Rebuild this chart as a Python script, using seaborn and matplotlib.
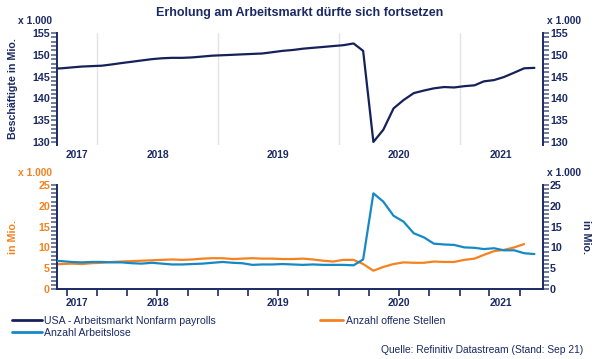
import numpy as np
import pandas as pd
import matplotlib
matplotlib.use("Agg")
import matplotlib.pyplot as plt
import matplotlib.dates as mdates
from matplotlib.ticker import MultipleLocator
from matplotlib.lines import Line2D
import seaborn as sns

# ---------------- data (monthly, mid-month) ----------------
payroll_months = pd.date_range("2017-08-01", "2021-08-01", freq="MS") + pd.Timedelta(days=14)
payrolls = [146.8, 146.9, 147.1, 147.3, 147.4,
            147.5, 147.8, 148.1, 148.4, 148.7, 149.0, 149.2, 149.3, 149.3, 149.4, 149.6, 149.8,
            149.9, 150.0, 150.1, 150.2, 150.3, 150.6, 150.9, 151.1, 151.4, 151.6, 151.8, 152.0,
            152.2, 152.6, 150.9, 130.0, 132.8, 137.7, 139.6, 141.2, 141.8, 142.3, 142.6, 142.5,
            142.8, 143.0, 143.9, 144.2, 144.9, 145.9, 146.9, 147.0]

openings_months = pd.date_range("2017-08-01", "2021-07-01", freq="MS") + pd.Timedelta(days=14)
openings = [5.9, 6.0, 6.1, 6.0, 6.2,
            6.3, 6.5, 6.6, 6.7, 6.8, 6.9, 7.0, 7.1, 7.0, 7.1, 7.3, 7.4,
            7.4, 7.2, 7.3, 7.4, 7.3, 7.3, 7.2, 7.2, 7.3, 7.1, 6.8, 6.6,
            7.0, 7.0, 6.0, 4.4, 5.3, 6.0, 6.4, 6.3, 6.3, 6.6, 6.5, 6.5,
            7.0, 7.3, 8.2, 9.1, 9.4, 10.0, 10.8]

unemployed_months = payroll_months
unemployed = [6.8, 6.7, 6.5, 6.4, 6.5,
              6.5, 6.4, 6.4, 6.2, 6.1, 6.3, 6.1, 5.9, 5.9, 6.0, 6.1, 6.3,
              6.5, 6.3, 6.2, 5.8, 5.9, 5.9, 6.0, 5.9, 5.8, 5.9, 5.8, 5.8,
              5.8, 5.7, 7.1, 23.0, 21.0, 17.6, 16.2, 13.4, 12.4, 10.9, 10.7, 10.6,
              10.0, 9.9, 9.6, 9.8, 9.3, 9.3, 8.6, 8.4]

years = [2017, 2018, 2019, 2020, 2021]
title = "Erholung am Arbeitsmarkt dürfte sich fortsetzen"
lbl_payrolls = "USA - Arbeitsmarkt Nonfarm payrolls"
lbl_openings = "Anzahl offene Stellen"
lbl_unemp = "Anzahl Arbeitslose"
source = "Quelle: Refinitiv Datastream (Stand: Sep 21)"

df_pay = pd.DataFrame({"date": payroll_months, "value": payrolls})
df_open = pd.DataFrame({"date": openings_months, "value": openings})
df_unemp = pd.DataFrame({"date": unemployed_months, "value": unemployed})

# ---------------- style ----------------
sns.set_style("white")
plt.rcParams["font.family"] = ["Liberation Sans", "DejaVu Sans"]

NAVY = "#1b2a63"
NAVY_LINE = "#16215a"
BLUE = "#1589c6"
ORANGE = "#f5821f"
GRID = "#e4e4e4"
TICK = "#5a6690"

W, H = 600, 359
fig = plt.figure(figsize=(6.0, 3.59), dpi=100)

def frac_box(x0, y0, x1, y1):
    return [x0 / W, 1 - y1 / H, (x1 - x0) / W, (y1 - y0) / H]

xmin = pd.Timestamp("2017-09-01")
xmax = pd.Timestamp("2021-09-10")

ax1 = fig.add_axes(frac_box(57, 33, 543, 145))
ax2 = fig.add_axes(frac_box(57, 185, 543, 289))

# ---------------- top panel ----------------
sns.lineplot(data=df_pay, x="date", y="value", ax=ax1, color=NAVY_LINE, lw=1.6, label=None)
ax1.set_xlim(xmin, xmax)
ax1.set_ylim(129.3, 155)
for y in years[1:]:
    ax1.axvline(pd.Timestamp(f"{y}-01-01"), color=GRID, lw=1.0, zorder=0)
ax1.set_xticks([])
ax1.set_xlabel("")
for s in ["top", "bottom"]:
    ax1.spines[s].set_visible(False)
for s in ["left", "right"]:
    ax1.spines[s].set_visible(True)
    ax1.spines[s].set_color(NAVY)
    ax1.spines[s].set_linewidth(1.4)
ax1.yaxis.set_major_locator(MultipleLocator(5))
ax1.yaxis.set_minor_locator(MultipleLocator(1))
ax1.tick_params(axis="y", which="both", left=True, right=True, labelleft=True, labelright=True,
                direction="out", color=TICK, width=1.2, length=4, labelcolor=NAVY,
                labelsize=7.7, pad=1)
for t in ax1.get_yticklabels():
    t.set_fontweight("bold")
ax1.set_ylabel("Beschäftigte in Mio.", color=NAVY, fontsize=7.7, fontweight="bold")
ax1.yaxis.set_label_coords((18 - 57) / 486, 0.5)

# ---------------- bottom panel ----------------
sns.lineplot(data=df_open, x="date", y="value", ax=ax2, color=ORANGE, lw=1.6, label=None)
ax2r = ax2.twinx()
sns.lineplot(data=df_unemp, x="date", y="value", ax=ax2r, color=BLUE, lw=1.6, label=None)
ax2.set_xlim(xmin, xmax)
for a in (ax2, ax2r):
    a.set_ylim(0, 25)
    a.yaxis.set_major_locator(MultipleLocator(5))
    a.yaxis.set_minor_locator(MultipleLocator(1))
    a.set_xlabel("")
    for s in a.spines.values():
        s.set_visible(False)
ax2.spines["left"].set_visible(True)
ax2.spines["bottom"].set_visible(True)
ax2r.spines["right"].set_visible(True)
for s in (ax2.spines["left"], ax2.spines["bottom"], ax2r.spines["right"]):
    s.set_color(NAVY)
    s.set_linewidth(1.4)

ax2.tick_params(axis="y", which="both", left=True, direction="out", color=TICK, width=1.2,
                length=4, labelcolor=ORANGE, labelsize=7.7, pad=1)
ax2r.tick_params(axis="y", which="both", right=True, direction="out", color=TICK, width=1.2,
                 length=4, labelcolor=NAVY, labelsize=7.7, pad=1)
for t in ax2.get_yticklabels() + ax2r.get_yticklabels():
    t.set_fontweight("bold")

ax2.xaxis.set_major_locator(mdates.MonthLocator(bymonth=[1, 4, 7, 10]))
ax2.tick_params(axis="x", which="major", bottom=True, direction="out", length=5, width=1.2,
                color=NAVY, labelbottom=False)
ax2.set_ylabel("in Mio.", color=ORANGE, fontsize=7.7, fontweight="bold")
ax2.yaxis.set_label_coords((18 - 57) / 486, 0.5)
ax2r.set_ylabel("in Mio.", color=NAVY, fontsize=7.7, fontweight="bold", rotation=270, va="center")
ax2r.yaxis.set_label_coords((586 - 57) / 486, 0.5)

# year labels centred in the visible part of each year
for ax, off in ((ax1, -7), (ax2, -10)):
    for y in years:
        a = max(pd.Timestamp(f"{y}-01-01"), xmin)
        b = min(pd.Timestamp(f"{y + 1}-01-01"), xmax)
        mid = a + (b - a) / 2
        ax.annotate(str(y), xy=(mdates.date2num(mid), 0), xycoords=("data", "axes fraction"),
                    xytext=(0, off), textcoords="offset points", ha="center", va="center",
                    fontsize=7.4, fontweight="bold", color=NAVY)

# ---------------- texts ----------------
fig.text(0.5, 1 - 13 / H, title, ha="center", va="center", fontsize=9, fontweight="bold", color=NAVY)
fig.text(35 / W, 1 - 21 / H, "x 1.000", ha="center", va="center", fontsize=7.4, fontweight="bold", color=NAVY)
fig.text(564 / W, 1 - 21 / H, "x 1.000", ha="center", va="center", fontsize=7.4, fontweight="bold", color=NAVY)
fig.text(35 / W, 1 - 173 / H, "x 1.000", ha="center", va="center", fontsize=7.4, fontweight="bold", color=ORANGE)
fig.text(564 / W, 1 - 173 / H, "x 1.000", ha="center", va="center", fontsize=7.4, fontweight="bold", color=NAVY)
fig.text(583 / W, 1 - 350 / H, source, ha="right", va="center", fontsize=7.4, color=NAVY)

# ---------------- legends ----------------
h_pay = Line2D([], [], color=NAVY_LINE, lw=2)
h_unemp = Line2D([], [], color=BLUE, lw=2)
h_open = Line2D([], [], color=ORANGE, lw=2)
leg1 = fig.legend([h_pay, h_unemp], [lbl_payrolls, lbl_unemp], loc="upper left",
                  bbox_to_anchor=(12 / W, 1 - 316 / H), frameon=False, fontsize=7.6,
                  handlelength=2.8, handletextpad=0.2, borderpad=0, borderaxespad=0, labelspacing=0.15)
for t in leg1.get_texts():
    t.set_color(NAVY)
leg2 = fig.legend([h_open], [lbl_openings], loc="upper left",
                  bbox_to_anchor=(320 / W, 1 - 316 / H), frameon=False, fontsize=7.6,
                  handlelength=2.2, handletextpad=0.3, borderpad=0, borderaxespad=0)
for t in leg2.get_texts():
    t.set_color(NAVY)

fig.savefig("out.png", dpi=100)
